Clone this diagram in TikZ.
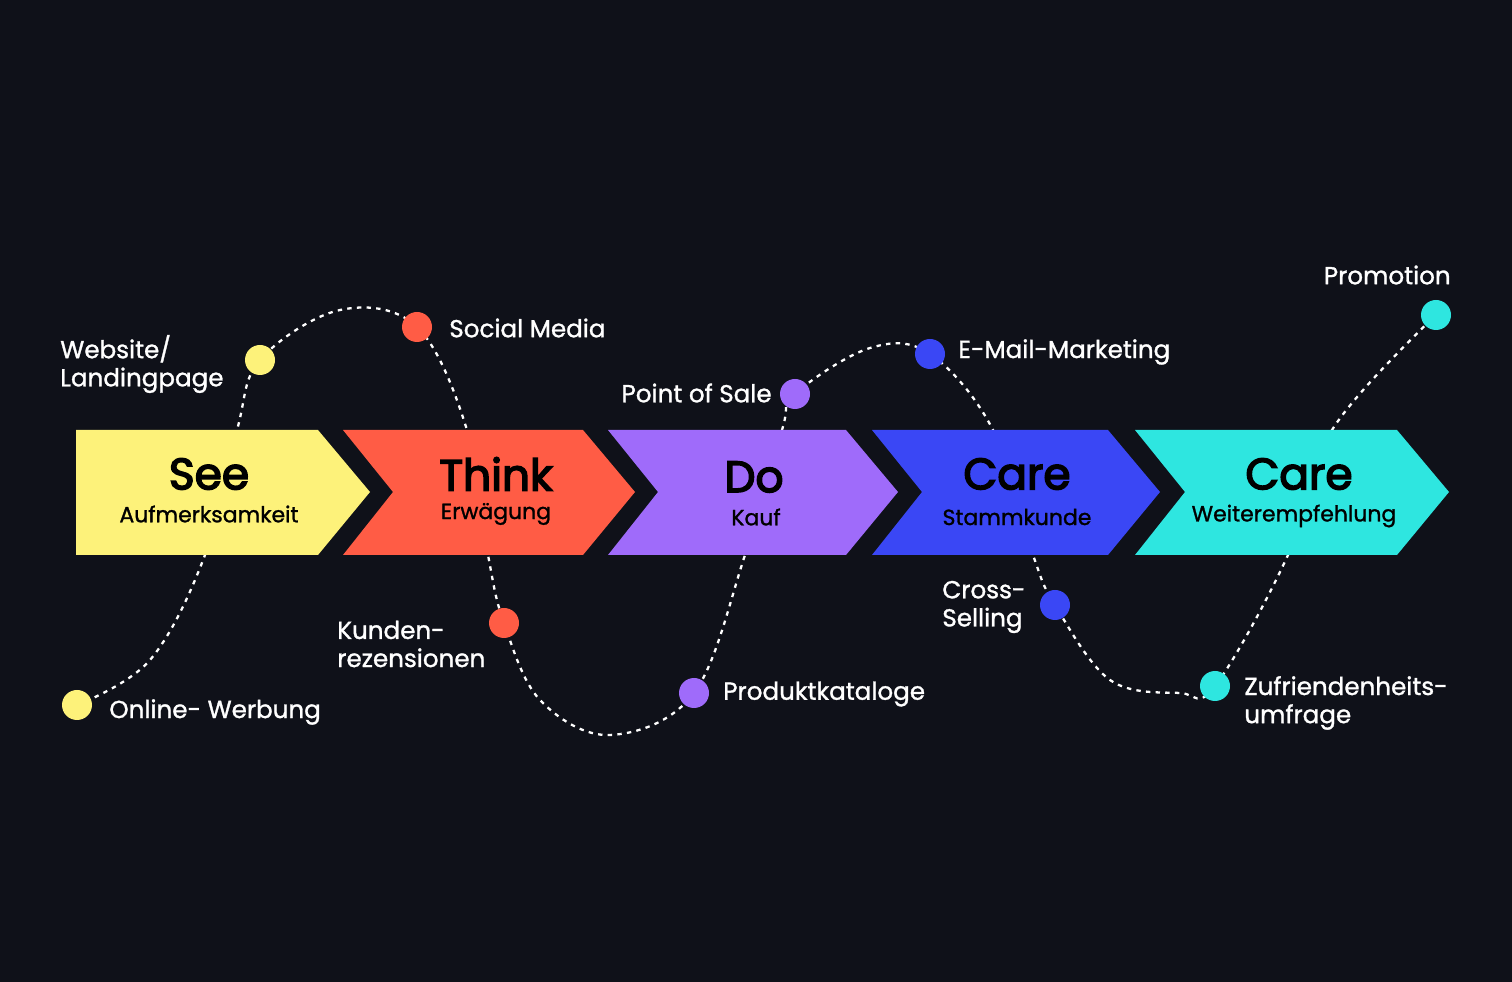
\documentclass[tikz,border=0pt]{standalone}
\usepackage{fontspec}
\setmainfont{Poppins}
\newfontfamily\med{Poppins}[RawFeature={embolden=1.2}]
\newfontfamily\semi{Poppins}[RawFeature={embolden=3.5}]
\definecolor{bg}{HTML}{0F1119}
\definecolor{cy}{HTML}{FDF27A}
\definecolor{cr}{HTML}{FF5C45}
\definecolor{cp}{HTML}{9F6BFA}
\definecolor{cb}{HTML}{3A47F5}
\definecolor{cc}{HTML}{2EE6E0}
\begin{document}
\begin{tikzpicture}[x=0.02cm,y=-0.02cm,
  dot/.style={circle,inner sep=0pt,minimum size=30*0.02cm},
  lbl/.style={text=white,font=\med\fontsize{14}{16}\selectfont,align=left,inner sep=0pt},
  ttl/.style={font=\semi\fontsize{25}{28}\selectfont,text=black,inner sep=0pt},
  sub/.style={font=\med\fontsize{12.5}{14}\selectfont,text=black,inner sep=0pt}]
\fill[bg] (0,0) rectangle (1512,982);
\useasboundingbox (0,0) rectangle (1512,982);
\draw[white,line width=1.3pt,dash pattern=on 2.5pt off 3pt] plot[smooth,tension=0.6] coordinates{(77,705)(150,660)(205,555)(237,430)(260,360)(340,310)(417,327)(467,430)(488,555)(504,623)(540,700)(610,735)(694,693)(745,555)(782,430)(795,394)(870,348)(930,354)(993,430)(1033,555)(1055,605)(1110,680)(1180,693)(1215,686)(1288,555)(1332,430)(1436,315)};
\fill[cy] (76,430)--(318,430)--(370,492)--(318,555)--(76,555)--cycle;
\fill[cr] (343,430)--(583,430)--(635,492)--(583,555)--(343,555)--(393,492)--cycle;
\fill[cp] (608,430)--(846,430)--(898,492)--(846,555)--(608,555)--(658,492)--cycle;
\fill[cb] (872,430)--(1108,430)--(1160,492)--(1108,555)--(872,555)--(922,492)--cycle;
\fill[cc] (1135,430)--(1397,430)--(1449,492)--(1397,555)--(1135,555)--(1185,492)--cycle;
\node[ttl] (t1) at (209,474) {See};
\node[sub] (s1) at (209,514) {Aufmerksamkeit};
\node[ttl] (t2) at (496,474) {Think};
\node[sub] (s2) at (496,514) {Erwägung};
\node[ttl] (t3) at (754,477) {Do};
\node[sub] (s3) at (756,517) {Kauf};
\node[ttl] (t4) at (1017,474) {Care};
\node[sub] (s4) at (1017,517) {Stammkunde};
\node[ttl] (t5) at (1299,474) {Care};
\node[sub] (s5) at (1294,516) {Weiterempfehlung};
\node[dot,fill=cy] (d1) at (260,360) {};
\node[dot,fill=cy] (d2) at (77,705) {};
\node[dot,fill=cr] (d3) at (417,327) {};
\node[dot,fill=cr] (d4) at (504,623) {};
\node[dot,fill=cp] (d5) at (795,394) {};
\node[dot,fill=cp] (d6) at (694,693) {};
\node[dot,fill=cb] (d7) at (930,354) {};
\node[dot,fill=cb] (d8) at (1055,605) {};
\node[dot,fill=cc] (d9) at (1436,315) {};
\node[dot,fill=cc] (d10) at (1215,686) {};
\node[lbl,anchor=west] (l1) at (60,364) {Website/\\Landingpage};
\node[lbl,anchor=west] (l2) at (109,712) {Online- Werbung};
\node[lbl,anchor=west] (l3) at (449,328) {Social Media};
\node[lbl,anchor=west] (l4) at (337,644) {Kunden-\\rezensionen};
\node[lbl,anchor=east] (l5) at (772,393) {Point of Sale};
\node[lbl,anchor=west] (l6) at (723,694) {Produktkataloge};
\node[lbl,anchor=west] (l7) at (958,352) {E-Mail-Marketing};
\node[lbl,anchor=west] (l8) at (942,607) {Cross-\\Selling};
\node[lbl,anchor=east] (l9) at (1451,275) {Promotion};
\node[lbl,anchor=west] (l10) at (1244,703) {Zufriendenheits-\\umfrage};
\end{tikzpicture}
\end{document}
